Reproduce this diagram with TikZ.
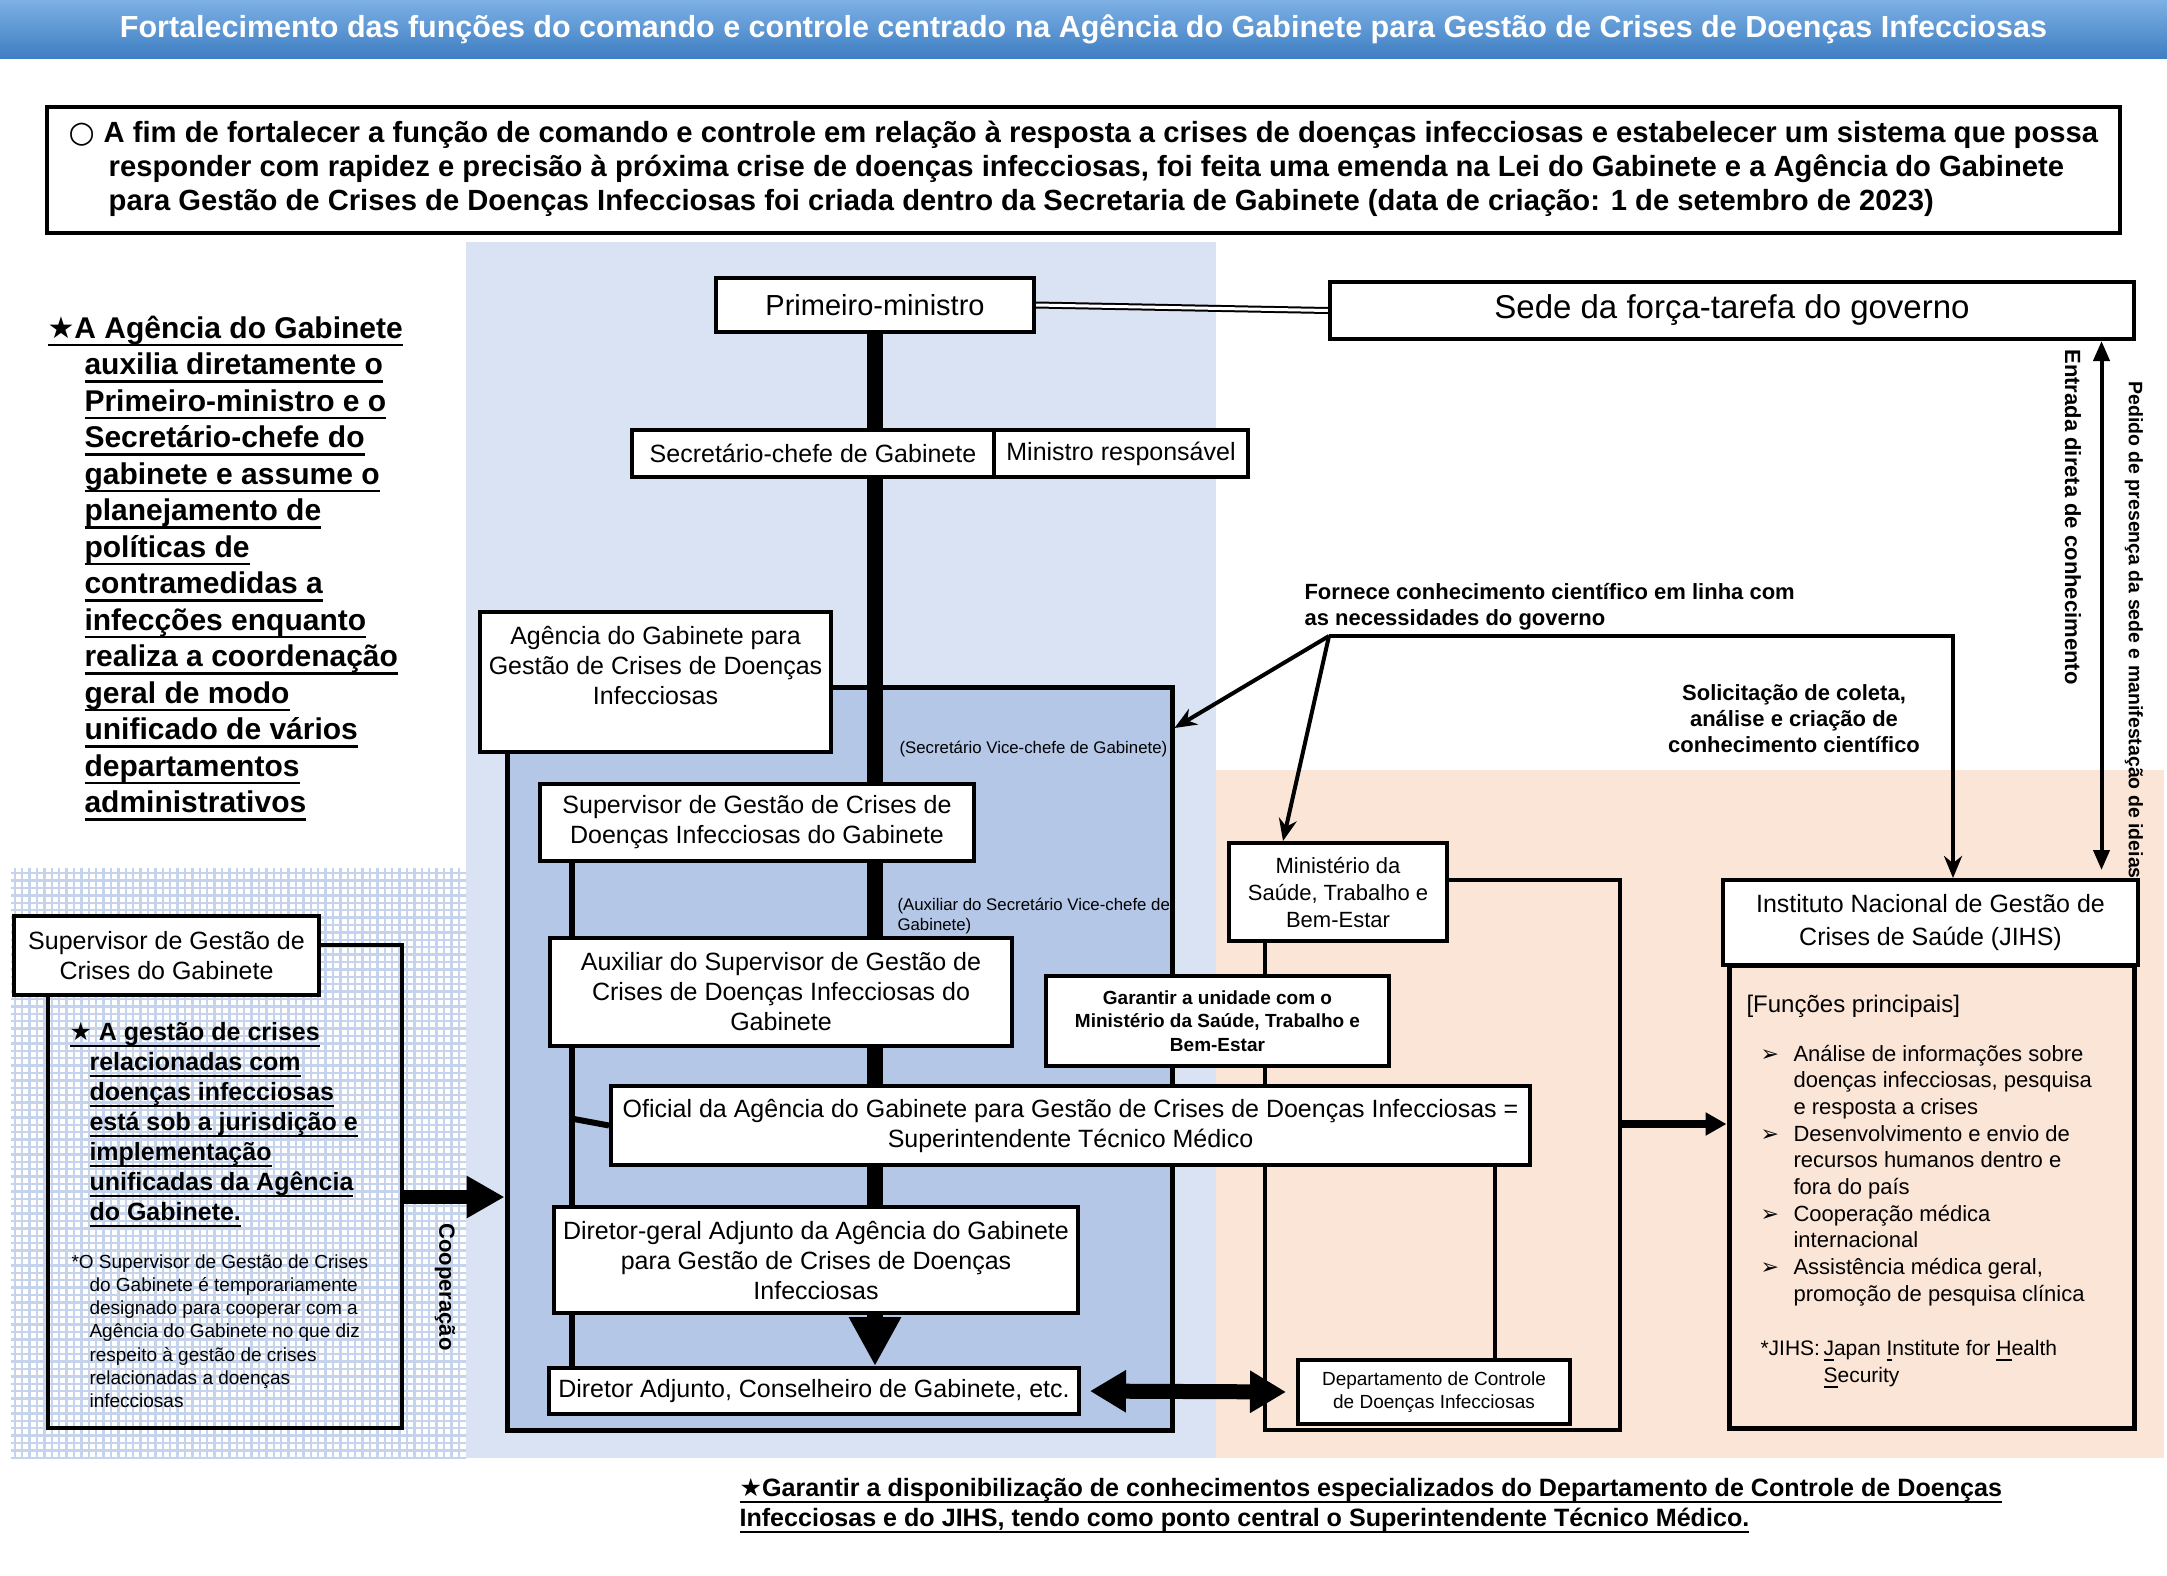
\documentclass[tikz,border=0pt]{standalone}
\usepackage{fontspec}
\setmainfont{Liberation Sans}
\newfontfamily\symfont{DejaVu Sans}
\usetikzlibrary{arrows.meta}
\pgfdeclarelayer{bg}
\pgfdeclarelayer{lines}
\pgfsetlayers{bg,lines,main}

\definecolor{barTop}{RGB}{125,176,228}
\definecolor{barBot}{RGB}{62,126,194}
\definecolor{paleBlue}{RGB}{218,227,243}
\definecolor{agBlue}{RGB}{180,199,231}
\definecolor{peach}{RGB}{251,229,214}
\definecolor{gridBlue}{RGB}{197,212,236}

\newcommand{\fsz}[2]{\fontsize{#1}{#2}\selectfont}
\newcommand{\ulx}[1]{\setbox0\hbox{#1}\rlap{\rule[-0.27em]{\wd0}{0.085em}}\box0}
\newcommand{\txtblock}[1]{\begin{tabular}[t]{@{}l@{}}#1\end{tabular}}
\newcommand{\bul}{\makebox[33pt][l]{\symfont\fsz{22}{26}➢}}

\begin{document}
\begin{tikzpicture}[x=1pt,y=-1pt]

\tikzset{box/.style = {draw, line width=4pt, fill=white, align=center, inner sep=0pt}}
\tikzset{txt25/.style = {font=\fsz{25}{30}}}
\tikzset{conn/.style = {line width=4.5pt}}
\tikzset{spine/.style = {line width=16pt}}
\tikzset{sarrow/.style = {line width=4pt, -{Stealth[length=22pt,width=18pt]}}}

\useasboundingbox (0,0) rectangle (2167,1575);

%background
\begin{pgfonlayer}{bg}
\shade[top color=barTop, bottom color=barBot] (0,0) rectangle (2167,58);
\fill[paleBlue] (466,242) rectangle (1216,1458);
\fill[peach] (1216,770) rectangle (2164,1458);
\begin{scope}
\clip (11,1458) rectangle (466,868);
\draw[gridBlue, line width=2.5pt] (11,1458) grid[step=7.4pt] (466,868);
\end{scope}
\node[draw, line width=5pt, fill=agBlue, minimum width=665, minimum height=743] (agency) at (839.5,1058.5) {};
\end{pgfonlayer}

%title and header
\node[font=\fsz{30.5}{34}\bfseries, text=white] (title) at (1083.5,29) {Fortalecimento das funções do comando e controle centrado na Agência do Gabinete para Gestão de Crises de Doenças Infecciosas};
\node[box, minimum width=2073, minimum height=126] (hdr) at (1083.5,170) {\fsz{29.2}{34}\bfseries\begin{tabular}[t]{@{}l@{}l@{}}\makebox[35pt][l]{\symfont\fsz{30}{34}○}&A fim de fortalecer a função de comando e controle em relação à resposta a crises de doenças infecciosas e estabelecer um sistema que possa\\
&\hspace*{5pt}responder com rapidez e precisão à próxima crise de doenças infecciosas, foi feita uma emenda na Lei do Gabinete e a Agência do Gabinete\\
&\hspace*{5pt}para Gestão de Crises de Doenças Infecciosas foi criada dentro da Secretaria de Gabinete (data de criação: 1 de setembro de 2023)\end{tabular}};

%command chain
\node[box, font=\fsz{29}{34}, minimum width=318, minimum height=54] (pm) at (875,305) {Primeiro-ministro};
\node[box, font=\fsz{33}{38}, minimum width=804, minimum height=57] (sede) at (1732,310.5) {Sede da força-tarefa do governo};
\node[box, txt25, minimum width=362, minimum height=47] (sec) at (813,453.5) {Secretário-chefe de Gabinete};
\node[box, txt25, minimum width=254, minimum height=47] (minresp) at (1121,453.5) {Ministro responsável};
\node[box, txt25, minimum width=351, minimum height=140] (agname) at (655.5,682) {\begin{tabular}{@{}c@{}}Agência do Gabinete para\\Gestão de Crises de Doenças\\Infecciosas\\[28pt]\end{tabular}};
\node[box, txt25, minimum width=434, minimum height=77] (supv) at (757,822.5) {Supervisor de Gestão de Crises de\\Doenças Infecciosas do Gabinete};
\node[box, txt25, minimum width=462, minimum height=108] (aux) at (781,992) {Auxiliar do Supervisor de Gestão de\\Crises de Doenças Infecciosas do\\Gabinete};
\node[box, txt25, minimum width=919, minimum height=79] (ofi) at (1070.5,1125.5) {Oficial da Agência do Gabinete para Gestão de Crises de Doenças Infecciosas =\\Superintendente Técnico Médico};
\node[box, txt25, minimum width=524, minimum height=106] (dirg) at (816,1260) {Diretor-geral Adjunto da Agência do Gabinete\\para Gestão de Crises de Doenças\\Infecciosas};
\node[box, txt25, minimum width=530, minimum height=46] (diradj) at (814,1391) {Diretor Adjunto, Conselheiro de Gabinete, etc.};

%left side
\node[draw, line width=4.5pt, minimum width=354, minimum height=483] (lframe) at (225,1186.5) {};
\node[box, txt25, minimum width=305, minimum height=79] (lsup) at (166.5,955.5) {Supervisor de Gestão de\\Crises do Gabinete};

%health side
\node[box, font=\fsz{22}{27}, minimum width=218, minimum height=98] (mhlw) at (1338,892) {Ministério da\\Saúde, Trabalho e\\Bem-Estar};
\node[box, font=\fsz{19}{23.5}\bfseries, minimum width=343, minimum height=90] (unity) at (1217.5,1021) {Garantir a unidade com o\\Ministério da Saúde, Trabalho e\\Bem-Estar};
\node[box, font=\fsz{19}{22.5}, minimum width=272, minimum height=64] (dept) at (1434,1392) {Departamento de Controle\\de Doenças Infecciosas};
\node[draw, line width=5pt, minimum width=405, minimum height=463] (jframe) at (1931.5,1196.5) {};
\node[box, font=\fsz{25}{33}, minimum width=415, minimum height=85] (jihs) at (1930.5,922.5) {Instituto Nacional de Gestão de\\Crises de Saúde (JIHS)};

%texts
\node[anchor=base west, font=\fsz{30}{36.5}\bfseries] (aim) at (44,338) {\txtblock{\ulx{{\symfont★}A Agência do Gabinete}\\
\hspace*{37pt}\ulx{auxilia diretamente o}\\
\hspace*{37pt}\ulx{Primeiro-ministro e o}\\
\hspace*{37pt}\ulx{Secretário-chefe do}\\
\hspace*{37pt}\ulx{gabinete e assume o}\\
\hspace*{37pt}\ulx{planejamento de}\\
\hspace*{37pt}\ulx{políticas de}\\
\hspace*{37pt}\ulx{contramedidas a}\\
\hspace*{37pt}\ulx{infecções enquanto}\\
\hspace*{37pt}\ulx{realiza a coordenação}\\
\hspace*{37pt}\ulx{geral de modo}\\
\hspace*{37pt}\ulx{unificado de vários}\\
\hspace*{37pt}\ulx{departamentos}\\
\hspace*{37pt}\ulx{administrativos}}};
\node[anchor=base west, font=\fsz{25}{30}\bfseries] (lnote) at (66,1040) {\txtblock{\ulx{{\symfont★} A gestão de crises}\\
\hspace*{20pt}\ulx{relacionadas com}\\
\hspace*{20pt}\ulx{doenças infecciosas}\\
\hspace*{20pt}\ulx{está sob a jurisdição e}\\
\hspace*{20pt}\ulx{implementação}\\
\hspace*{20pt}\ulx{unificadas da Agência}\\
\hspace*{20pt}\ulx{do Gabinete.}}};
\node[anchor=base west, font=\fsz{19}{23.3}] (lfoot) at (68,1268) {\txtblock{*O Supervisor de Gestão de Crises\\
\hspace*{18pt}do Gabinete é temporariamente\\
\hspace*{18pt}designado para cooperar com a\\
\hspace*{18pt}Agência do Gabinete no que diz\\
\hspace*{18pt}respeito à gestão de crises\\
\hspace*{18pt}relacionadas a doenças\\
\hspace*{18pt}infecciosas}};
\node[rotate=-90, font=\fsz{22}{26}\bfseries] (coop) at (445,1287) {Cooperação};
\node[anchor=base west, font=\fsz{16.8}{20}] (vice) at (896,753) {(Secretário Vice-chefe de Gabinete)};
\node[anchor=base west, font=\fsz{16.8}{20.5}] (vice2) at (894,910) {\txtblock{(Auxiliar do Secretário Vice-chefe de\\Gabinete)}};
\node[anchor=base west, font=\fsz{22}{26}\bfseries] (sci) at (1301,599) {\txtblock{Fornece conhecimento científico em linha com\\as necessidades do governo}};
\node[anchor=base, font=\fsz{22}{26}\bfseries] (req) at (1794,700) {\begin{tabular}[t]{@{}c@{}}Solicitação de coleta,\\análise e criação de\\conhecimento científico\end{tabular}};
\node[rotate=-90, font=\fsz{22}{26}\bfseries] (direct) at (2073,517) {Entrada direta de conhecimento};
\node[rotate=-90, font=\fsz{19.5}{24}\bfseries] (presence) at (2134,630) {Pedido de presença da sede e manifestação de ideias};
\node[anchor=base west, font=\fsz{24}{28}] (funcs) at (1743,1012) {[Funções principais]};
\node[anchor=base west, font=\fsz{22}{26.7}] (flist) at (1757,1061) {\begin{tabular}[t]{@{}l@{}l@{}}\bul&Análise de informações sobre\\&doenças infecciosas, pesquisa\\&e resposta a crises\\
\bul&Desenvolvimento e envio de\\&recursos humanos dentro e\\&fora do país\\
\bul&Cooperação médica\\&internacional\\
\bul&Assistência médica geral,\\&promoção de pesquisa clínica\end{tabular}};
\node[anchor=base west, font=\fsz{21}{27}] (jnote) at (1757,1355) {\begin{tabular}[t]{@{}l@{}l@{}}*JIHS:\,&\ulx{J}apan \ulx{I}nstitute for \ulx{H}ealth\\&\ulx{S}ecurity\end{tabular}};
\node[anchor=base west, font=\fsz{25.1}{30}\bfseries] (focus) at (736,1496) {\txtblock{\ulx{{\symfont★}Garantir a disponibilização de conhecimentos especializados do Departamento de Controle de Doenças}\\
\ulx{Infecciosas e do JIHS, tendo como ponto central o Superintendente Técnico Médico.}}};

%connectors
\begin{pgfonlayer}{lines}
\draw[spine] (pm.south) -- (pm.south |- dirg.south);
\draw[spine, -{Triangle[length=49pt,width=49pt]}] (pm.south |- dirg.south) -- (pm.south |- diradj.north);
\draw[double, double distance=3pt, line width=2pt] (pm.east) -- (sede.west);
\draw[line width=6pt] ([xshift=34pt]supv.south west) -- ([xshift=34pt]supv.south west |- diradj.north);
\coordinate (lk) at (574,1119);
\draw[line width=6pt] (lk) -- (ofi.west);
\draw[line width=14pt, -{Triangle[length=38pt,width=40pt]}] ([yshift=-10.5pt]lframe.east) -- (agency.west |- 0,1197);
\coordinate (hf) at (1620,1430);
\draw[conn] ([yshift=12pt]mhlw.east) -| (hf) -| ([xshift=38pt]mhlw.south west);
\draw[conn] ([xshift=61pt]dept.north) -- ([xshift=61pt]dept.north |- ofi.south);
\draw[line width=8pt, -{Triangle[length=21pt,width=22pt]}] (hf |- 0,1124) -- (jframe.west |- 0,1124);
\draw[line width=15pt, {Triangle[length=36pt,width=40pt]}-{Triangle[length=36pt,width=40pt]}, shorten <=9pt, shorten >=10pt] (diradj.east) -- (dept.west);
\coordinate (fk) at (1329,636);
\draw[sarrow] (fk) -- (agency.east |- 0,728);
\draw[sarrow] (fk) -- ([xshift=-55pt]mhlw.north);
\draw[sarrow] (fk) -| ([xshift=22.5pt]jihs.north);
\draw[line width=4pt, {Triangle[length=20pt,width=16pt]}-{Triangle[length=20pt,width=16pt]}, shorten >=8pt] ([xshift=369.5pt]sede.south) -- ([xshift=369.5pt]sede.south |- jihs.north);
\end{pgfonlayer}

\end{tikzpicture}
\end{document}
